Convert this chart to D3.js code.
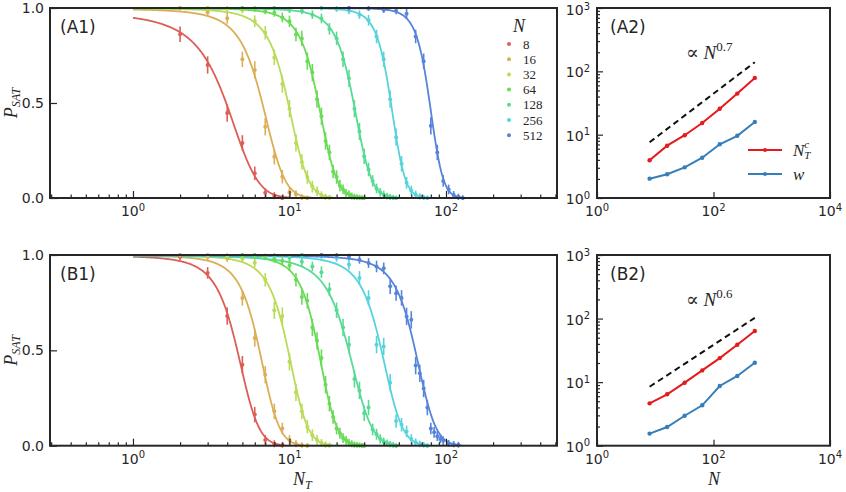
<!DOCTYPE html>
<html><head><meta charset="utf-8">
<script src="https://cdn.jsdelivr.net/npm/d3@7"></script>
<style>body{margin:0;background:#fff}svg{display:block}</style>
</head><body><svg id="c" width="846" height="492"></svg>
<script>
// ---------------- data ----------------
const sizes = [8, 16, 32, 64, 128, 256, 512];
const hues = [0.01, 0.11, 0.21, 0.31, 0.41, 0.51, 0.61];
// fitted transition points and widths (panels A2 / B2)
const ntcA = [3.94, 6.7, 9.8, 15.3, 25.7, 44.5, 78.7];
const wA   = [2.02, 2.37, 3.05, 4.33, 7.05, 9.6, 15.9];
const ntcB = [4.64, 6.43, 9.8, 15.3, 23.9, 38.7, 63.6];
const wB   = [1.55, 1.97, 2.96, 4.32, 8.7, 12.5, 20.2];
const expA = 0.7, prefA = 1.77;
const expB = 0.6, prefB = 2.43;
const panelLabels = ["(A1)", "(A2)", "(B1)", "(B2)"];

// measured points [N_T, P_SAT, error]
const dataA8 = [[2,0.862,0.03],[3,0.70,0.035],[4,0.447,0.035],[5,0.29,0.03],[6,0.13,0.025],[7,0.028,0.012],[8,0.012,0.008],[9,0.0,0.004]];
const dataA16 = [[2,1.0,0.004],[3,0.977,0.012],[4,0.946,0.018],[5,0.73,0.03],[6,0.674,0.035],[7,0.375,0.035],[8,0.217,0.03],[9,0.112,0.025],[10,0.03,0.015],[11,0.02,0.01],[12,0.004,0.005],[13,0.0,0.003]];
const dataA32 = [[3,1.0,0.003],[4,0.996,0.005],[5,0.99,0.008],[6,0.93,0.02],[7,0.87,0.025],[8,0.74,0.03],[9,0.60,0.035],[10,0.47,0.035],[11,0.29,0.035],[12,0.19,0.03],[13,0.11,0.025],[14,0.06,0.02],[15,0.035,0.015],[16,0.015,0.01],[17,0.006,0.006],[18,0.002,0.004]];
const dataA64 = [[5,1.0,0.003],[6,0.995,0.005],[7,0.985,0.008],[8,0.975,0.01],[9,0.95,0.015],[10,0.93,0.02],[11,0.86,0.025],[12,0.84,0.03],[13,0.72,0.035],[14,0.66,0.035],[15,0.52,0.035],[16,0.43,0.035],[17,0.30,0.035],[18,0.24,0.03],[19,0.14,0.025],[20,0.11,0.025],[21,0.065,0.02],[22,0.045,0.015],[23,0.025,0.012],[24,0.02,0.01],[25,0.01,0.008],[26,0.006,0.006],[27,0.004,0.005],[28,0.002,0.004],[29,0.001,0.003],[30,0.0,0.003]];
const dataA128 = [[8,1.0,0.003],[10,0.99,0.006],[12,0.985,0.008],[14,0.965,0.012],[16,0.945,0.015],[18,0.89,0.02],[20,0.84,0.025],[22,0.73,0.03],[24,0.63,0.035],[26,0.47,0.035],[28,0.35,0.035],[30,0.22,0.03],[32,0.15,0.025],[34,0.09,0.02],[36,0.05,0.015],[38,0.03,0.012],[40,0.018,0.01],[42,0.01,0.007],[44,0.005,0.005],[46,0.002,0.004],[48,0.0,0.003]];
const dataA256 = [[16,1.0,0.003],[20,0.995,0.005],[24,0.985,0.008],[28,0.965,0.012],[32,0.935,0.018],[36,0.85,0.025],[40,0.73,0.03],[44,0.52,0.035],[48,0.32,0.035],[52,0.18,0.03],[56,0.08,0.02],[60,0.04,0.015],[64,0.018,0.01],[68,0.008,0.006],[72,0.003,0.004],[76,0.0,0.003]];
const dataA512 = [[24,1.0,0.002],[32,0.998,0.003],[40,0.99,0.006],[48,0.985,0.008],[56,0.97,0.015],[64,0.85,0.025],[72,0.72,0.03],[80,0.38,0.035],[88,0.24,0.03],[96,0.09,0.02],[104,0.045,0.015],[112,0.016,0.01],[120,0.006,0.006],[128,0.0,0.004]];

const dataB8 = [[2,0.99,0.008],[3,0.906,0.02],[4,0.68,0.035],[5,0.425,0.035],[6,0.163,0.03],[7,0.03,0.015],[8,0.01,0.008],[9,0.002,0.004]];
const dataB16 = [[2,1.0,0.003],[3,0.99,0.006],[4,0.984,0.01],[5,0.775,0.03],[6,0.565,0.035],[7,0.372,0.035],[8,0.18,0.03],[9,0.09,0.02],[10,0.03,0.015],[11,0.01,0.008],[12,0.003,0.004],[13,0.0,0.003]];
const dataB32 = [[3,1.0,0.003],[4,0.995,0.005],[5,0.98,0.01],[6,0.96,0.015],[7,0.87,0.025],[8,0.71,0.035],[9,0.68,0.035],[10,0.44,0.035],[11,0.28,0.035],[12,0.18,0.03],[13,0.10,0.025],[14,0.055,0.02],[15,0.03,0.015],[16,0.015,0.01],[17,0.006,0.006],[18,0.002,0.004]];
const dataB64 = [[5,1.0,0.003],[6,0.995,0.005],[7,0.99,0.007],[8,0.98,0.01],[9,0.97,0.012],[10,0.945,0.018],[11,0.87,0.025],[12,0.78,0.03],[13,0.76,0.03],[14,0.62,0.035],[15,0.55,0.035],[16,0.46,0.035],[17,0.32,0.035],[18,0.22,0.03],[19,0.15,0.025],[20,0.09,0.02],[21,0.065,0.018],[22,0.04,0.015],[23,0.028,0.012],[24,0.016,0.01],[25,0.01,0.008],[26,0.006,0.006],[27,0.004,0.005],[28,0.002,0.004],[29,0.001,0.003],[30,0.0,0.003]];
const dataB128 = [[6,1.0,0.003],[8,0.995,0.005],[10,0.985,0.008],[12,0.965,0.012],[14,0.94,0.015],[16,0.91,0.02],[18,0.82,0.025],[20,0.71,0.03],[22,0.62,0.035],[24,0.53,0.035],[26,0.35,0.035],[28,0.29,0.035],[30,0.17,0.03],[32,0.20,0.03],[34,0.085,0.02],[36,0.06,0.018],[38,0.035,0.014],[40,0.022,0.01],[42,0.014,0.008],[44,0.008,0.006],[46,0.004,0.005],[48,0.0,0.003]];
const dataB256 = [[12,1.0,0.003],[16,0.995,0.005],[20,0.984,0.008],[24,0.95,0.015],[28,0.88,0.025],[32,0.775,0.03],[36,0.53,0.035],[40,0.52,0.035],[44,0.33,0.035],[48,0.13,0.025],[52,0.11,0.025],[56,0.075,0.02],[60,0.035,0.015],[64,0.018,0.01],[68,0.009,0.007],[72,0.004,0.005],[76,0.0,0.003]];
const dataB512 = [[16,1.0,0.003],[20,0.998,0.004],[24,0.99,0.006],[28,0.975,0.01],[32,0.958,0.015],[36,0.94,0.02],[40,0.93,0.02],[44,0.836,0.03],[48,0.80,0.03],[52,0.775,0.03],[56,0.678,0.035],[60,0.66,0.035],[64,0.42,0.035],[68,0.38,0.035],[72,0.30,0.035],[76,0.20,0.03],[80,0.09,0.02],[84,0.07,0.018],[88,0.05,0.015],[92,0.035,0.012],[96,0.026,0.012],[104,0.012,0.008],[112,0.008,0.006],[120,0.005,0.005]];

const dataA = [dataA8, dataA16, dataA32, dataA64, dataA128, dataA256, dataA512];
const dataB = [dataB8, dataB16, dataB32, dataB64, dataB128, dataB256, dataB512];

const xMajorLeft = [1, 10, 100];
const xMinorLeft = [0.3,0.4,0.5,0.6,0.7,0.8,0.9,2,3,4,5,6,7,8,9,20,30,40,50,60,70,80,90,200,300,400,500];
const yTicksLeft = [0, 0.5, 1];
const yTickLabelsLeft = ["0.0", "0.5", "1.0"];
const xMajorRight = [1, 100, 10000];
const yMajorRight = [1, 10, 100, 1000];
const yMinorRight = [2,3,4,5,6,7,8,9,20,30,40,50,60,70,80,90,200,300,400,500,600,700,800,900];

// ---------------- drawing ----------------
const svg = d3.select("#c");
const FRAME = "#262626";
const SANS = "'DejaVu Sans', sans-serif";
const SERIF = "'Liberation Serif', 'DejaVu Serif', serif";
const colors = hues.map(h => d3.hsl(h * 360, 0.65, 0.6).formatHex());
const RED = "#e41a1c", BLUE = "#377eb8";

function powLabel(g, x, y, exp, anchor) {
  const t = g.append("text").attr("x", x).attr("y", y).attr("text-anchor", anchor)
    .attr("font-family", SANS).attr("font-size", 14).attr("fill", "#262626");
  t.append("tspan").text("10");
  t.append("tspan").attr("dy", -5.5).attr("font-size", 10).text(exp);
}

function ticks(g, axisGen, tr) {
  const a = g.append("g").attr("transform", tr).call(axisGen);
  a.select(".domain").remove();
  a.selectAll("line").attr("stroke", FRAME).attr("stroke-width", 1.2);
}

function leftPanel(top, bottom, data, ntc, w, label, withXLabel, withLegend) {
  const L = 50, R = 557;
  const x = d3.scaleLog().domain([0.295, 512]).range([L, R]);
  const y = d3.scaleLinear().domain([0, 1]).range([bottom, top]);
  const g = svg.append("g");

  // fit curves
  const line = d3.line().x(d => x(d[0])).y(d => y(d[1]));
  data.forEach((pts, i) => {
    const c = ntc[i], ww = w[i];
    const end = c + 3 * ww;
    const samples = d3.range(0, 241).map(k => {
      const nt = Math.pow(10, Math.log10(end) * k / 240);
      return [nt, 0.5 * (1 - Math.tanh((nt - c) / ww))];
    });
    g.append("path").attr("d", line(samples)).attr("fill", "none")
      .attr("stroke", colors[i]).attr("stroke-width", 1.8);
  });
  // points with error bars
  data.forEach((pts, i) => {
    const s = g.append("g").attr("fill", colors[i]).attr("stroke", colors[i]);
    s.selectAll("line").data(pts).join("line")
      .attr("x1", d => x(d[0])).attr("x2", d => x(d[0]))
      .attr("y1", d => y(Math.max(0, d[1] - d[2]) ) + 2)
      .attr("y2", d => y(Math.min(1, d[1] + d[2])) - 2)
      .attr("stroke-width", 1.6);
    s.selectAll("circle").data(pts).join("circle")
      .attr("cx", d => x(d[0])).attr("cy", d => y(d[1])).attr("r", 2).attr("stroke", "none");
  });

  // ticks
  ticks(g, d3.axisBottom(x).tickValues(xMinorLeft).tickSize(-3.5).tickFormat(""), `translate(0,${bottom})`);
  ticks(g, d3.axisBottom(x).tickValues(xMajorLeft).tickSize(-7).tickFormat(""), `translate(0,${bottom})`);
  ticks(g, d3.axisLeft(y).tickValues(yTicksLeft).tickSize(-7).tickFormat(""), `translate(${L},0)`);

  // frame
  g.append("rect").attr("x", L).attr("y", top).attr("width", R - L).attr("height", bottom - top)
    .attr("fill", "none").attr("stroke", FRAME).attr("stroke-width", 2);

  // tick labels
  yTicksLeft.forEach((v, i) => {
    g.append("text").attr("x", 44).attr("y", y(v) + 5).attr("text-anchor", "end")
      .attr("font-family", SANS).attr("font-size", 14).attr("fill", "#262626").text(yTickLabelsLeft[i]);
  });
  xMajorLeft.forEach(v => powLabel(g, x(v), bottom + 18, String(Math.round(Math.log10(v))), "middle"));

  // y label
  const yl = g.append("text").attr("transform", `translate(17,${(top + bottom) / 2}) rotate(-90)`)
    .attr("text-anchor", "middle").attr("font-family", SERIF).attr("font-style", "italic")
    .attr("font-size", 18).attr("fill", "#262626");
  yl.append("tspan").text("P");
  yl.append("tspan").attr("dy", 3).attr("font-size", 12).text("SAT");

  // panel label
  g.append("text").attr("x", 60).attr("y", top + 25).attr("font-family", SANS).attr("font-size", 17)
    .attr("fill", "#262626").text(label);

  if (withXLabel) {
    const xl = g.append("text").attr("x", 293).attr("y", 485).attr("font-family", SERIF)
      .attr("font-style", "italic").attr("font-size", 18).attr("fill", "#262626");
    xl.append("tspan").text("N");
    xl.append("tspan").attr("dy", 4).attr("font-size", 12).text("T");
  }

  if (withLegend) {
    g.append("text").attr("x", 519).attr("y", 32).attr("text-anchor", "middle").attr("font-family", SERIF)
      .attr("font-style", "italic").attr("font-size", 18).attr("fill", "#262626").text("N");
    sizes.forEach((n, i) => {
      const yy = 44 + i * 15.2;
      g.append("circle").attr("cx", 509).attr("cy", yy).attr("r", 2).attr("fill", colors[i]);
      g.append("text").attr("x", 523).attr("y", yy + 4.5).attr("font-family", SERIF)
        .attr("font-size", 13).attr("fill", "#262626").text(n);
    });
  }
}

function rightPanel(top, bottom, ntc, w, expo, pref, label, withXLabel, withLegend) {
  const L = 597, R = 830;
  const x = d3.scaleLog().domain([1, 1e4]).range([L, R]);
  const y = d3.scaleLog().domain([1, 1e3]).range([bottom, top]);
  const g = svg.append("g");

  ticks(g, d3.axisBottom(x).tickValues(xMajorRight).tickSize(-6).tickFormat(""), `translate(0,${bottom})`);
  ticks(g, d3.axisLeft(y).tickValues(yMinorRight).tickSize(-3).tickFormat(""), `translate(${L},0)`);
  ticks(g, d3.axisLeft(y).tickValues(yMajorRight).tickSize(-6).tickFormat(""), `translate(${L},0)`);

  // power-law guide
  const n0 = sizes[0], n1 = sizes[sizes.length - 1];
  g.append("line").attr("x1", x(n0)).attr("y1", y(pref * Math.pow(n0, expo)))
    .attr("x2", x(n1)).attr("y2", y(pref * Math.pow(n1, expo)))
    .attr("stroke", "#111").attr("stroke-width", 2).attr("stroke-dasharray", "6,4");

  const line = d3.line().x(d => x(d[0])).y(d => y(d[1]));
  [[ntc, RED], [w, BLUE]].forEach(([vals, col]) => {
    const pts = sizes.map((n, i) => [n, vals[i]]);
    g.append("path").attr("d", line(pts)).attr("fill", "none").attr("stroke", col).attr("stroke-width", 2);
    g.selectAll(null).data(pts).join("circle").attr("cx", d => x(d[0])).attr("cy", d => y(d[1]))
      .attr("r", 2.2).attr("fill", col);
  });

  g.append("rect").attr("x", L).attr("y", top).attr("width", R - L).attr("height", bottom - top)
    .attr("fill", "none").attr("stroke", FRAME).attr("stroke-width", 2);

  yMajorRight.forEach(v => powLabel(g, 590, Math.max(y(v) + 6, 15), String(Math.round(Math.log10(v))), "end"));
  xMajorRight.forEach(v => powLabel(g, x(v), bottom + 18, String(Math.round(Math.log10(v))), "middle"));

  g.append("text").attr("x", 610).attr("y", top + 25).attr("font-family", SANS).attr("font-size", 17)
    .attr("fill", "#262626").text(label);

  // power-law annotation
  const ann = g.append("text").attr("x", 686).attr("y", top + 51).attr("font-family", SERIF)
    .attr("font-size", 19).attr("fill", "#262626");
  ann.append("tspan").text("\u221D ");
  ann.append("tspan").attr("font-style", "italic").text("N");
  ann.append("tspan").attr("dy", -8).attr("font-size", 13).text(String(expo));

  if (withXLabel) {
    g.append("text").attr("x", 714).attr("y", 485).attr("text-anchor", "middle").attr("font-family", SERIF)
      .attr("font-style", "italic").attr("font-size", 18).attr("fill", "#262626").text("N");
  }
  if (withLegend) {
    [[RED, 150, "N", "T", "c"], [BLUE, 174, "w", null, null]].forEach(([col, yy, main, sub, sup]) => {
      g.append("line").attr("x1", 748).attr("x2", 782).attr("y1", yy).attr("y2", yy)
        .attr("stroke", col).attr("stroke-width", 2);
      g.append("circle").attr("cx", 765).attr("cy", yy).attr("r", 2).attr("fill", col);
      const t = g.append("text").attr("x", 793).attr("y", yy + 6).attr("font-family", SERIF)
        .attr("font-style", "italic").attr("font-size", 17).attr("fill", "#262626");
      t.append("tspan").text(main);
      if (sup) {
        t.append("tspan").attr("dy", -8).attr("font-size", 11).text(sup);
        t.append("tspan").attr("dx", -5).attr("dy", 11).attr("font-size", 11).text(sub);
      }
    });
  }
}

leftPanel(8, 198, dataA, ntcA, wA, panelLabels[0], false, true);
leftPanel(255, 445.7, dataB, ntcB, wB, panelLabels[2], true, false);
rightPanel(8, 198, ntcA, wA, expA, prefA, panelLabels[1], false, true);
rightPanel(255, 445.7, ntcB, wB, expB, prefB, panelLabels[3], true, false);
</script>
</body></html>
